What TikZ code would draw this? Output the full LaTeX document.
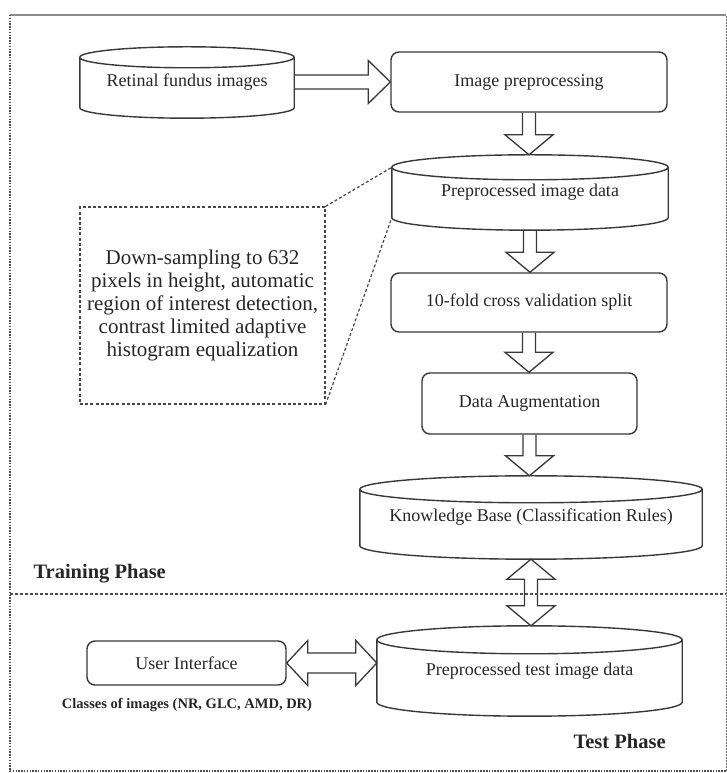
\documentclass[tikz,border=0pt]{standalone}
\usepackage{fontspec}
\setmainfont{Liberation Serif}
\usetikzlibrary{calc}
\tikzset{
  x=1pt, y=1pt,
  lncol/.style={draw=black!78, line width=1.4pt},
  rbox/.style={lncol, rounded corners=8pt, inner sep=0pt, align=center, text=black!85,
    font=\fontsize{18}{21}\selectfont},
  cylnode/.style={draw=none, inner sep=0pt, align=center, text=black!85,
    font=\fontsize{18}{21}\selectfont},
  cylline/.style={lncol},
  harrow/.style={draw=black!78, line width=1.3pt, line join=miter},
  callout/.style={draw=black!72, line width=1.2pt, dash pattern=on 3pt off 2.2pt},
  phase/.style={anchor=west, text=black!85, font=\bfseries\fontsize{20.5}{24}\selectfont},
}
\newcommand\cyl[2]{%
  \draw[cylline] let \p1=(#1.north west), \p2=(#1.south east),
      \n1={(\x2-\x1)/2}, \n2={(\x1+\x2)/2} in
    (\n2,\y1-#2pt) ellipse [x radius=\n1, y radius=#2pt]
    (\x1,\y1-#2pt) -- (\x1,\y2+#2pt) arc[start angle=180, end angle=360, x radius=\n1, y radius=#2pt]
    -- (\x2,\y1-#2pt);}
\newcommand\hdown[2]{%
  \draw[harrow] let \p1=(#1.south), \p2=(#2.north) in
    (\x1-6.5pt,\y1) -- (\x1-6.5pt,\y2+20pt) -- (\x1-24pt,\y2+20pt) -- (\x1,\y2)
    -- (\x1+24pt,\y2+20pt) -- (\x1+6.5pt,\y2+20pt) -- (\x1+6.5pt,\y1);}
\begin{document}
\begin{tikzpicture}
\useasboundingbox (0,0) rectangle (727,773);
% outer frame
\draw[black!45, line width=1.2pt] (10,758) -- (726,758);
\draw[black!70, line width=1.4pt, dash pattern=on 1.5pt off 1.3pt] (10,758) -- (10,2) -- (726,2);
\draw[black!55, line width=1pt, dash pattern=on 1.5pt off 1.5pt] (726,2) -- (726,758);

% nodes
\node[cylnode, minimum width=214pt, minimum height=71pt] (ret) at (187,690.5) {Retinal fundus images};
\node[rbox, minimum width=276pt, minimum height=60pt] (imgpre) at (529,691) {Image preprocessing};
\node[cylnode, minimum width=276pt, minimum height=75pt] (ppd) at (530,580.5) {Preprocessed image data};
\node[rbox, minimum width=276pt, minimum height=59pt] (cv) at (529,470.5) {10-fold cross validation split};
\node[rbox, minimum width=215pt, minimum height=61pt] (aug) at (529.5,369.5) {Data Augmentation};
\node[cylnode, minimum width=342pt, minimum height=83pt] (kb) at (531,255.5) {Knowledge Base (Classification Rules)};
\node[cylnode, minimum width=305pt, minimum height=90pt] (test) at (529.5,102) {Preprocessed test image data};
\node[rbox, minimum width=199pt, minimum height=44pt] (ui) at (186.5,110) {User Interface};
\node[callout, minimum width=245pt, minimum height=197pt, inner sep=0pt, align=center, text=black!85,
  font=\fontsize{21}{23}\selectfont] (note) at (202.5,467.5)
  {Down-sampling to 632\\pixels in height, automatic\\region of interest detection,\\contrast limited adaptive\\histogram equalization};

\cyl{ret}{10.5}
\cyl{ppd}{12.5}
\cyl{kb}{13.5}
\cyl{test}{14}

% callout connectors
\draw[callout] (note.north east) -- ($(ppd.north west)+(0,-12.5)$);
\draw[callout] (note.south east) -- ($(ppd.south west)+(0,12.5)$);

% hollow arrows
\draw[harrow] let \p1=(ret.east), \p2=(imgpre.west) in
  (\x1,\y2+7pt) -- (\x2-22pt,\y2+7pt) -- (\x2-22pt,\y2+21.5pt) -- (\x2,\y2)
  -- (\x2-22pt,\y2-21.5pt) -- (\x2-22pt,\y2-7pt) -- (\x1,\y2-7pt);
\hdown{imgpre}{ppd}
\hdown{ppd}{cv}
\hdown{cv}{aug}
\hdown{aug}{kb}
\draw[harrow] let \p1=(kb.south), \p2=(test.north) in
  (\x1,\y1) -- (\x1+24pt,\y1-20pt) -- (\x1+6.5pt,\y1-20pt) -- (\x1+6.5pt,\y2+20pt) -- (\x1+24pt,\y2+20pt)
  -- (\x1,\y2) -- (\x1-24pt,\y2+20pt) -- (\x1-6.5pt,\y2+20pt) -- (\x1-6.5pt,\y1-20pt) -- (\x1-24pt,\y1-20pt) -- cycle;
\draw[harrow] let \p1=(ui.east), \p2=(test.west) in
  (\x1,\y1) -- (\x1+21pt,\y1+22.5pt) -- (\x1+21pt,\y1+10pt) -- (\x2-21pt,\y1+10pt) -- (\x2-21pt,\y1+22.5pt)
  -- (\x2,\y1) -- (\x2-21pt,\y1-22.5pt) -- (\x2-21pt,\y1-10pt) -- (\x1+21pt,\y1-10pt) -- (\x1+21pt,\y1-22.5pt) -- cycle;

% phase divider
\coordinate (dl) at (10,179);
\coordinate (dr) at (726,179);
\draw[black!70, line width=1.3pt, dash pattern=on 2.6pt off 2.4pt] (dl) -- (dr);

% labels
\node[phase] (trainlbl) at (30,199) {Training Phase};
\node[phase] (testlbl) at (570,32) {Test Phase};
\node[text=black!85, font=\bfseries\fontsize{14.5}{17}\selectfont] (cls) at (187,68)
  {Classes of images (NR, GLC, AMD, DR)};
\end{tikzpicture}
\end{document}
